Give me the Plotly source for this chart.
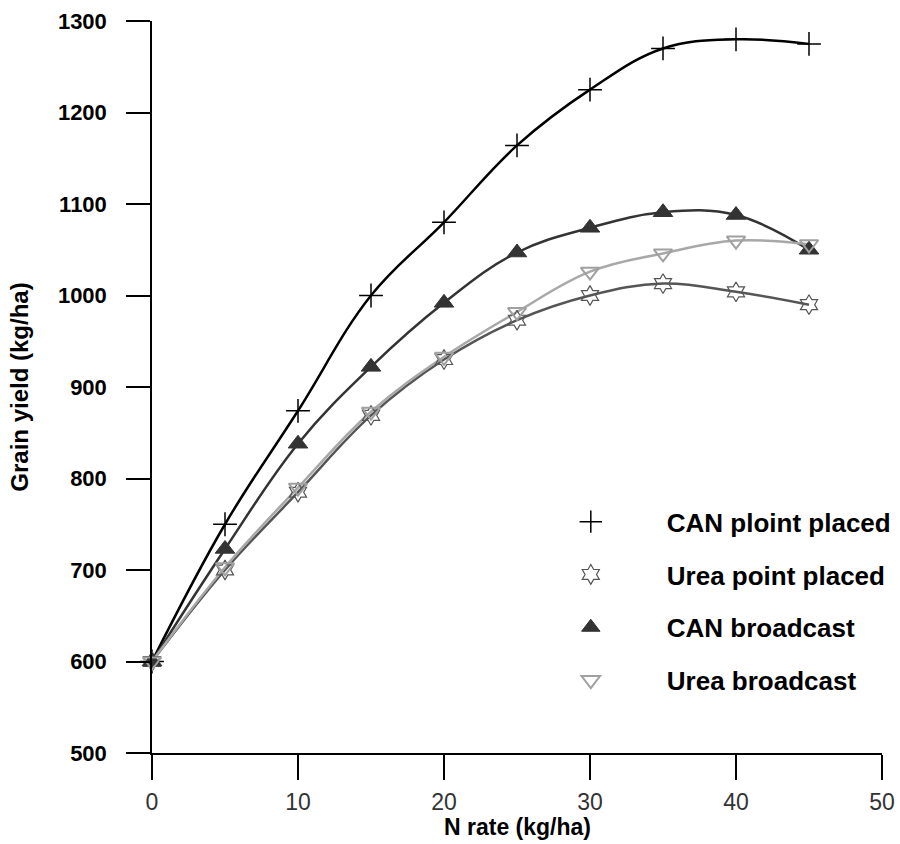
import plotly.graph_objects as go

n_rate = [0, 5, 10, 15, 20, 25, 30, 35, 40, 45]

series_names = ["CAN ploint placed", "Urea point placed", "CAN broadcast", "Urea broadcast"]
can_point = [600, 750, 874, 1000, 1080, 1164, 1225, 1270, 1280, 1275]
urea_point = [600, 700, 785, 869, 930, 973, 1000, 1013, 1004, 990]
can_broadcast = [600, 723, 838, 922, 992, 1047, 1074, 1091, 1088, 1050]
urea_broadcast = [600, 703, 790, 873, 933, 982, 1026, 1046, 1060, 1056]

y_ticks = [500, 600, 700, 800, 900, 1000, 1100, 1200, 1300]
x_ticks = [0, 10, 20, 30, 40, 50]

values = [can_point, urea_point, can_broadcast, urea_broadcast]
line_colors = ["#000000", "#555555", "#333333", "#a8a8a8"]
markers = [
    dict(symbol="cross-thin-open", size=17, color="#000000", line=dict(color="#000000", width=1.5)),
    dict(symbol="hexagram-open", size=15, color="#555555", line=dict(color="#555555", width=1.2)),
    dict(symbol="triangle-up", size=17, color="#333333", line=dict(color="#333333", width=1)),
    dict(symbol="triangle-down-open", size=16, color="#a0a0a0", line=dict(color="#a0a0a0", width=2)),
]

fig = go.Figure()
for name, vals, lc, mk in zip(series_names, values, line_colors, markers):
    fig.add_trace(go.Scatter(
        x=n_rate, y=vals, mode="lines", line=dict(color=lc, width=2.5, shape="spline", smoothing=1.1),
        showlegend=False, legendgroup=name, hoverinfo="skip", cliponaxis=False,
    ))
for name, vals, lc, mk in zip(series_names, values, line_colors, markers):
    fig.add_trace(go.Scatter(
        x=n_rate, y=vals, mode="markers", marker=mk, name=name, legendgroup=name,
        cliponaxis=False,
    ))

fig.update_layout(
    width=900, height=844,
    paper_bgcolor="white", plot_bgcolor="white",
    margin=dict(l=152, r=18, t=21, b=91, autoexpand=False),
    font=dict(family="Arial, Liberation Sans, sans-serif", color="#000000"),
    showlegend=True,
    legend=dict(
        x=0.497, y=0.348, xanchor="left", yanchor="top",
        font=dict(size=26, color="#000000", family="Arial, Liberation Sans, sans-serif", weight="bold"),
        traceorder="grouped", tracegroupgap=16, itemwidth=142,
        bgcolor="rgba(0,0,0,0)",
    ),
    xaxis=dict(
        range=[0, 50], tickvals=x_ticks, ticks="outside", ticklen=25, tickwidth=1.5,
        tickcolor="#000000", showline=True, linecolor="#000000", linewidth=1.5,
        showgrid=False, zeroline=False, ticklabelstandoff=3, automargin=False,
        tickfont=dict(size=23, color="#333333"),
    ),
    yaxis=dict(
        range=[500, 1300], tickvals=y_ticks, ticks="outside", ticklen=24, tickwidth=1.5,
        tickcolor="#000000", showline=True, linecolor="#000000", linewidth=1.5,
        showgrid=False, zeroline=False, ticklabelstandoff=15, automargin=False,
        tickfont=dict(size=22, color="#000000", weight="bold"),
        title=dict(text="<b>Grain yield (kg/ha)</b>", font=dict(size=24, color="#000000"), standoff=22),
    ),
    annotations=[dict(
        text="<b>N rate (kg/ha)</b>", xref="paper", yref="paper", x=0.5, y=-0.101,
        xanchor="center", yanchor="middle", showarrow=False,
        font=dict(size=23, color="#000000"),
    )],
)

fig.write_html(
    "out.html",
    config={"displayModeBar": False},
    post_script="document.body.style.margin='0';document.body.style.padding='0';",
)
